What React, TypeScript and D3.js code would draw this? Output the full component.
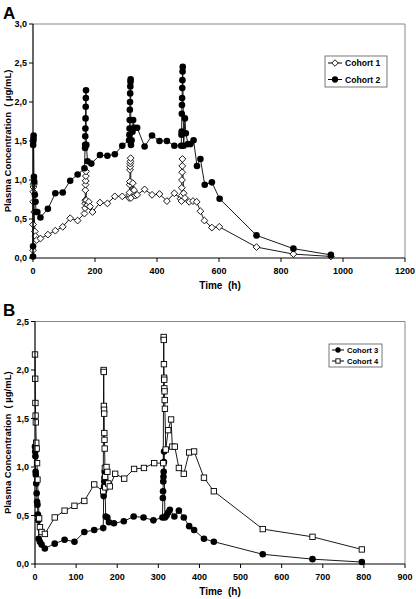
import React from "react";
import * as d3 from "d3";

// ---------- DATA ----------
// Panel A
const cohort1: [number, number][] = [
  [0, 0.1], [0.2, 0.43], [0.5, 0.72], [1, 0.85], [1.5, 0.91], [2, 0.94], [3, 0.96], [4, 0.59], [6, 0.34], [8, 0.28], [12, 0.23],
  [24, 0.25], [48, 0.3], [72, 0.35], [96, 0.4], [120, 0.51], [144, 0.48], [166, 0.57],
  [168, 0.64], [168.3, 0.7], [168.6, 0.74], [169, 0.87], [169.5, 0.94], [170, 0.99], [170.5, 1.05], [171, 1.11],
  [172, 0.74], [176, 0.68], [180, 0.72], [184, 0.66], [192, 0.59], [216, 0.71], [240, 0.7], [264, 0.79], [288, 0.79],
  [310, 0.77], [311, 0.81], [311.5, 0.84], [312, 0.94], [312.5, 0.98], [313, 1.13], [313.5, 1.17], [314, 1.21], [314.5, 1.24], [315, 1.28],
  [316, 0.77], [322, 0.96], [326, 0.87], [330, 0.8], [336, 0.81], [360, 0.88], [384, 0.81], [408, 0.82], [432, 0.73], [456, 0.83],
  [476, 0.76], [479, 0.73], [479.5, 0.8], [480, 0.9], [480.5, 1.0], [481, 1.1], [481.5, 1.18], [482, 1.27],
  [486, 0.83], [490, 0.77], [504, 0.72], [516, 0.73], [528, 0.72], [540, 0.6], [553, 0.48], [577, 0.39], [601, 0.4],
  [721, 0.14], [840, 0.05], [961, 0.02],
];
const cohort2: [number, number][] = [
  [0, 0.02], [0.2, 0.15], [0.5, 1.45], [1, 1.5], [1.5, 1.53], [2, 1.57], [3, 1.04], [4, 0.98], [6, 0.81], [8, 0.72], [10, 0.59],
  [14, 0.59], [24, 0.52], [48, 0.63], [72, 0.83], [96, 0.84], [120, 0.99], [144, 1.07], [166, 1.15],
  [168, 1.41], [168.3, 1.45], [168.6, 1.56], [169, 1.66], [169.5, 1.79], [170, 1.94], [170.5, 2.05], [171, 2.15],
  [172, 1.45], [176, 1.24], [188, 1.21], [216, 1.32], [240, 1.31], [264, 1.33], [288, 1.44],
  [310, 1.51], [311, 1.58], [311.5, 1.66], [312, 1.77], [312.5, 1.9], [313, 2.0], [313.5, 2.11], [314, 2.2], [314.5, 2.26], [315, 2.29],
  [316, 1.45], [318, 1.51], [321, 1.62], [323, 1.77], [327, 1.67], [336, 1.67], [360, 1.43], [384, 1.57], [408, 1.5], [432, 1.5], [456, 1.44],
  [478, 1.44], [479, 1.58], [479.5, 1.62], [480, 1.85], [480.5, 1.96], [481, 2.05], [481.5, 2.18], [482, 2.28], [482.5, 2.39], [483, 2.45],
  [486, 1.44], [490, 1.79], [493, 1.6], [500, 1.46], [508, 1.46], [518, 1.51], [529, 1.18], [540, 1.27], [554, 0.94], [577, 0.97], [602, 0.76],
  [721, 0.29], [840, 0.12], [961, 0.04],
];
// Panel B
const cohort3: [number, number][] = [
  [0, 1.21], [0.5, 1.16], [1, 1.11], [1.5, 0.95], [2, 0.92], [3, 0.83], [4, 0.73], [5, 0.64], [6, 0.61], [7, 0.51], [8, 0.45],
  [9, 0.26], [12, 0.23], [16, 0.2], [24, 0.16], [48, 0.21], [72, 0.25], [96, 0.23], [120, 0.33], [144, 0.35], [166, 0.37],
  [167, 0.7], [167.5, 0.75], [168, 0.8], [168.5, 0.85], [169, 0.89], [169.5, 0.95],
  [172, 0.49], [176, 0.48], [180, 0.43], [192, 0.42], [216, 0.44], [240, 0.49], [264, 0.48], [288, 0.45],
  [310, 0.48], [311, 0.68], [311.5, 0.75], [312, 0.85], [312.5, 0.9], [313, 0.95], [313.5, 1.05], [314, 1.16],
  [316, 0.48], [320, 0.5], [324, 0.53], [328, 0.56], [339, 0.49], [350, 0.55], [362, 0.48], [375, 0.39], [387, 0.35],
  [411, 0.26], [435, 0.23], [554, 0.1], [675, 0.05], [795, 0.02],
];
const cohort4: [number, number][] = [
  [0, 2.16], [0.5, 1.91], [1, 1.66], [1.5, 1.53], [2, 1.46], [3, 1.25], [4, 1.19], [5, 1.04], [6, 0.87], [10, 0.47], [12, 0.38],
  [16, 0.33], [24, 0.31], [48, 0.48], [72, 0.55], [96, 0.6], [120, 0.65], [144, 0.82], [166, 0.75],
  [167, 2.0], [167.3, 1.98], [167.6, 1.63], [168, 1.59], [168.3, 1.55], [168.6, 1.35], [169, 1.28], [169.5, 1.19], [170, 0.99], [170.5, 0.9], [171, 0.79],
  [174, 1.0], [176, 0.95], [178, 0.83], [182, 0.8], [195, 0.93], [217, 0.88], [241, 0.98], [265, 0.99], [290, 1.04], [312, 1.04],
  [313, 2.34], [313.3, 2.31], [313.6, 2.06], [314, 1.92], [314.3, 1.9], [314.6, 1.81], [315, 1.78], [315.5, 1.69], [316, 1.6],
  [318, 1.18], [324, 1.38], [331, 1.49], [334, 1.21], [340, 1.21], [350, 0.99], [362, 0.93], [375, 1.15], [387, 1.16],
  [411, 0.89], [435, 0.75], [554, 0.36], [675, 0.28], [795, 0.15],
];

const xTicksA = [0, 200, 400, 600, 800, 1000, 1200];
const yTicksA = [0, 0.5, 1.0, 1.5, 2.0, 2.5, 3.0];
const xTicksB = [0, 100, 200, 300, 400, 500, 600, 700, 800, 900];
const yTicksB = [0, 0.5, 1.0, 1.5, 2.0, 2.5];

const FONT = "'Liberation Sans', Arial, sans-serif";
const fmt = (v: number) => v.toFixed(1).replace(".", ",");

type Marker = "circle" | "diamond" | "square";

function MarkerShape({ type, x, y, scale = 1 }: { type: Marker; x: number; y: number; scale?: number }) {
  if (type === "circle") return <circle cx={x} cy={y} r={3.3 * scale} fill="#000" />;
  if (type === "diamond") {
    const r = 3.4 * scale;
    return (
      <path
        d={`M${x},${y - r}L${x + r},${y}L${x},${y + r}L${x - r},${y}Z`}
        fill="#fff"
        stroke="#000"
        strokeWidth={0.9}
      />
    );
  }
  const s = 5.4 * scale;
  return <rect x={x - s / 2} y={y - s / 2} width={s} height={s} fill="#fff" stroke="#000" strokeWidth={0.9} />;
}

interface Series {
  name: string;
  data: [number, number][];
  marker: Marker;
}

interface PanelProps {
  letter: string;
  letterY: number;
  left: number;
  right: number;
  top: number;
  bottom: number;
  xMax: number;
  yMax: number;
  xTicks: number[];
  yTicks: number[];
  series: Series[];
  legendOrder: Series[];
  legend: { x: number; y: number; w: number; h: number; rowH: number; font: number; first: number; lineW: number; mScale: number };
}

function Panel(p: PanelProps) {
  const x = d3.scaleLinear().domain([0, p.xMax]).range([p.left, p.right]);
  const y = d3.scaleLinear().domain([0, p.yMax]).range([p.bottom, p.top]);
  const line = d3
    .line<[number, number]>()
    .x((d) => x(d[0]))
    .y((d) => y(d[1]));
  const midY = (p.top + p.bottom) / 2;
  return (
    <g>
      <text x={3} y={p.letterY} fontFamily={FONT} fontWeight="bold" fontSize={17}>
        {p.letter}
      </text>
      {/* frame */}
      <line x1={p.left} x2={p.right} y1={p.top} y2={p.top} stroke="#888" strokeWidth={1} />
      <line x1={p.right} x2={p.right} y1={p.top} y2={p.bottom} stroke="#888" strokeWidth={1} />
      {/* series */}
      {p.series.map((s) => (
        <g key={s.name}>
          <path d={line(s.data) || ""} fill="none" stroke="#000" strokeWidth={0.9} />
          {s.data.map((d, i) => (
            <MarkerShape key={i} type={s.marker} x={x(d[0])} y={y(d[1])} />
          ))}
        </g>
      ))}
      {/* axes */}
      <line x1={p.left} x2={p.left} y1={p.top} y2={p.bottom} stroke="#000" strokeWidth={1.2} />
      <line x1={p.left} x2={p.right} y1={p.bottom} y2={p.bottom} stroke="#000" strokeWidth={1.2} />
      {p.yTicks.map((t) => (
        <g key={"y" + t}>
          <line x1={p.left - 4} x2={p.left} y1={y(t)} y2={y(t)} stroke="#000" />
          <text
            x={p.left - 6}
            y={y(t)}
            dy="0.35em"
            textAnchor="end"
            fontFamily={FONT}
            fontWeight="bold"
            fontSize={9}
          >
            {fmt(t)}
          </text>
        </g>
      ))}
      {p.xTicks.map((t) => (
        <g key={"x" + t}>
          <line x1={x(t)} x2={x(t)} y1={p.bottom} y2={p.bottom + 4} stroke="#000" />
          <text
            x={x(t)}
            y={p.bottom + 16}
            textAnchor="middle"
            fontFamily={FONT}
            fontWeight="bold"
            fontSize={9}
          >
            {t}
          </text>
        </g>
      ))}
      <text
        x={220}
        y={p.bottom + 31}
        textAnchor="middle"
        fontFamily={FONT}
        fontWeight="bold"
        fontSize={10}
        xmlSpace="preserve"
      >
        {"Time  (h)"}
      </text>
      <text
        transform={`translate(11,${midY}) rotate(-90)`}
        textAnchor="middle"
        fontFamily={FONT}
        fontWeight="bold"
        fontSize={9.5}
        xmlSpace="preserve"
      >
        {"Plasma Concentration  ( µg/mL)"}
      </text>
      {/* legend */}
      <rect
        x={p.legend.x}
        y={p.legend.y}
        width={p.legend.w}
        height={p.legend.h}
        fill="#fff"
        stroke="#555"
        strokeWidth={0.8}
      />
      {p.legendOrder.map((s, i) => {
        const cy = p.legend.y + p.legend.first + i * p.legend.rowH;
        const lx = p.legend.x + 3;
        const lw = p.legend.lineW;
        return (
          <g key={"l" + s.name}>
            <line x1={lx} x2={lx + lw} y1={cy} y2={cy} stroke="#000" />
            <MarkerShape type={s.marker} x={lx + lw / 2} y={cy} scale={p.legend.mScale} />
            <text
              x={lx + lw + 3}
              y={cy}
              dy="0.35em"
              fontFamily={FONT}
              fontWeight="bold"
              fontSize={p.legend.font}
            >
              {s.name}
            </text>
          </g>
        );
      })}
    </g>
  );
}

export default function App() {
  const s1: Series = { name: "Cohort 1", data: cohort1, marker: "diamond" };
  const s2: Series = { name: "Cohort 2", data: cohort2, marker: "circle" };
  const s3: Series = { name: "Cohort 3", data: cohort3, marker: "circle" };
  const s4: Series = { name: "Cohort 4", data: cohort4, marker: "square" };
  return (
    <svg
      width={416}
      height={599}
      style={{ position: "absolute", left: 0, top: 0, background: "#fff" }}
    >
      <rect width={416} height={599} fill="#fff" />
      <Panel
        letter="A"
        letterY={19}
        left={33}
        right={405}
        top={24}
        bottom={258}
        xMax={1200}
        yMax={3}
        xTicks={xTicksA}
        yTicks={yTicksA}
        series={[s1, s2]}
        legendOrder={[s1, s2]}
        legend={{ x: 325, y: 56, w: 62, h: 31, rowH: 16.5, font: 8.6, first: 7, lineW: 14, mScale: 0.95 }}
      />
      <Panel
        letter="B"
        letterY={316}
        left={35}
        right={405}
        top={321.5}
        bottom={564}
        xMax={900}
        yMax={2.5}
        xTicks={xTicksB}
        yTicks={yTicksB}
        series={[s3, s4]}
        legendOrder={[s3, s4]}
        legend={{ x: 329, y: 344, w: 53, h: 23, rowH: 11, font: 7.6, first: 6, lineW: 12, mScale: 0.8 }}
      />
    </svg>
  );
}
